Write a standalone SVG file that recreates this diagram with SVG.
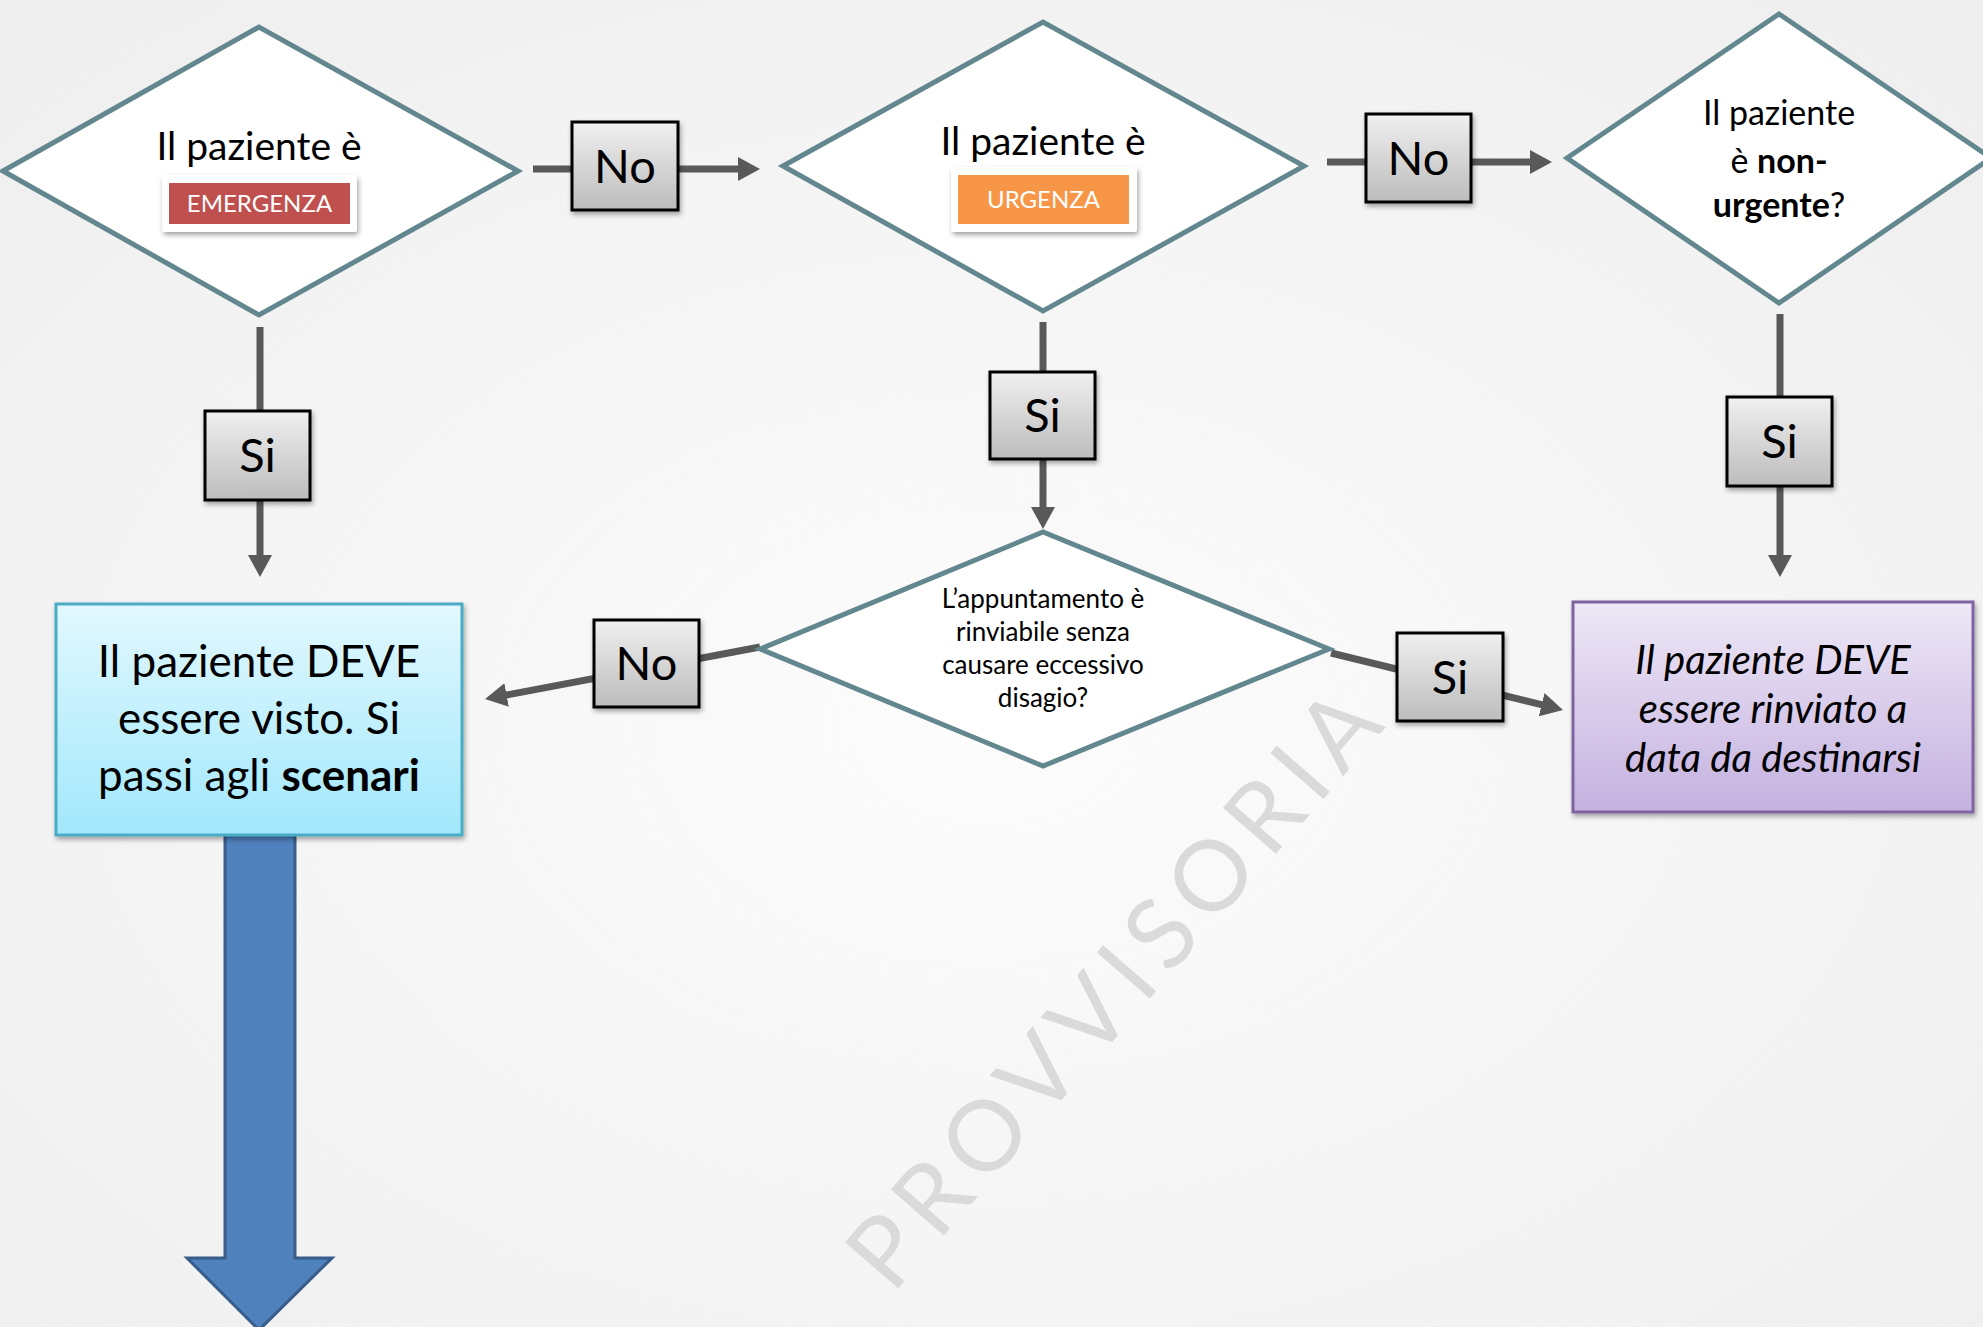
<svg xmlns="http://www.w3.org/2000/svg" width="1983" height="1327" viewBox="0 0 1983 1327">
<defs>
  <radialGradient id="bg" cx="0.5" cy="0.55" r="0.75">
    <stop offset="0" stop-color="#FCFCFC"/>
    <stop offset="1" stop-color="#EEEEEE"/>
  </radialGradient>
  <linearGradient id="gray" x1="0" y1="0" x2="0" y2="1">
    <stop offset="0" stop-color="#F0F0F0"/>
    <stop offset="1" stop-color="#BCBCBC"/>
  </linearGradient>
  <linearGradient id="cyan" x1="0" y1="0" x2="0" y2="1">
    <stop offset="0" stop-color="#E2F8FE"/>
    <stop offset="1" stop-color="#A2E8FC"/>
  </linearGradient>
  <linearGradient id="purple" x1="0" y1="0" x2="0" y2="1">
    <stop offset="0" stop-color="#EEE8F6"/>
    <stop offset="1" stop-color="#C4B1E0"/>
  </linearGradient>
  <filter id="sh" x="-20%" y="-20%" width="140%" height="150%">
    <feDropShadow dx="1.5" dy="3" stdDeviation="2.5" flood-color="#000" flood-opacity="0.35"/>
  </filter>
  <marker id="ah" viewBox="0 0 22 24" refX="4" refY="12" markerWidth="22" markerHeight="24" markerUnits="userSpaceOnUse" orient="auto">
    <path d="M0,0 L22,12 L0,24 z" fill="#595959"/>
  </marker>
  <style>
    .dia { fill: #FFFFFF; stroke: #62878F; stroke-width: 5; stroke-linejoin: miter; }
    .conn { fill: none; stroke: #595959; stroke-width: 7; marker-end: url(#ah); }
    .lbl { fill: url(#gray); stroke: #000000; stroke-width: 3; filter: url(#sh); }
    .lt { font-family: Lato, "Liberation Sans", sans-serif; font-size: 47px; fill: #000; text-anchor: middle; }
    .t { font-family: Lato, "Liberation Sans", sans-serif; fill: #000; text-anchor: middle; }
    .badge { fill: #FFFFFF; filter: url(#sh); }
    .bt { font-family: Lato, "Liberation Sans", sans-serif; font-size: 24px; fill: #FFFFFF; text-anchor: middle; }
    .b { font-weight: bold; }
  </style>
</defs>

<rect x="0" y="0" width="1983" height="1327" fill="url(#bg)"/>

<!-- watermark -->
<text x="1118" y="1018" transform="rotate(-49 1118 985)" font-family="Lato, 'Liberation Sans', sans-serif" font-size="98" letter-spacing="11" fill="#DADADA" text-anchor="middle">PROVVISORIA</text>

<!-- big blue arrow -->
<g id="big-arrow">
  <polygon points="225,835 295,835 295,1258 332,1258 259,1330 187,1258 225,1258" fill="#4F81BD" stroke="#385D8A" stroke-width="3"/>
</g>

<g id="connectors">
  <path class="conn" d="M533,169 L742,169"/>
  <path class="conn" d="M1327,162 L1534,162"/>
  <path class="conn" d="M260,327 L260,559"/>
  <path class="conn" d="M1043,322 L1043,511"/>
  <path class="conn" d="M1780,314 L1780,559"/>
  <path class="conn" d="M760,647 L502.7,695.7"/>
  <path class="conn" d="M1331,653 L1545.5,705.7"/>
</g>

<g id="d-emergenza">
  <polygon class="dia" points="3,171 259,27 518,171 259,315"/>
  <text class="t" x="259" y="160" font-size="39">Il paziente è</text>
  <rect class="badge" x="162" y="175" width="195" height="57" rx="3"/>
  <rect x="169" y="183" width="181" height="41" fill="#C0504D"/>
  <text class="bt" x="259.5" y="212">EMERGENZA</text>
</g>

<g id="d-urgenza">
  <polygon class="dia" points="783,166 1043,22 1304,166 1043,311"/>
  <text class="t" x="1043" y="155" font-size="39">Il paziente è</text>
  <rect class="badge" x="951" y="167" width="186" height="65" rx="3"/>
  <rect x="958" y="175" width="171" height="49" fill="#F79646"/>
  <text class="bt" x="1043.5" y="208">URGENZA</text>
</g>

<g id="d-nonurgente">
  <polygon class="dia" points="1567,158 1779,14 1991,158 1779,303"/>
  <text class="t" x="1779" y="125" font-size="34">Il paziente</text>
  <text class="t" x="1779" y="173" font-size="34">è <tspan class="b">non-</tspan></text>
  <text class="t" x="1779" y="217" font-size="34"><tspan class="b">urgente</tspan>?</text>
</g>

<g id="d-rinvio">
  <polygon class="dia" points="760,649 1043,532 1329,649 1043,766"/>
  <text class="t" x="1043" y="608" font-size="26">L’appuntamento è</text>
  <text class="t" x="1043" y="641" font-size="26">rinviabile senza</text>
  <text class="t" x="1043" y="674" font-size="26">causare eccessivo</text>
  <text class="t" x="1043" y="707" font-size="26">disagio?</text>
</g>

<g id="box-visto">
  <rect x="56" y="604" width="406" height="231" fill="url(#cyan)" stroke="#4BACC6" stroke-width="3" filter="url(#sh)"/>
  <text class="t" x="259" y="677" font-size="44">Il paziente DEVE</text>
  <text class="t" x="259" y="734" font-size="44">essere visto. Si</text>
  <text class="t" x="259" y="791" font-size="44">passi agli <tspan class="b">scenari</tspan></text>
</g>

<g id="box-rinviato">
  <rect x="1573" y="602" width="400" height="210" fill="url(#purple)" stroke="#8064A2" stroke-width="3" filter="url(#sh)"/>
  <text class="t" x="1773" y="674" font-size="40" font-style="italic">Il paziente DEVE</text>
  <text class="t" x="1773" y="723" font-size="40" font-style="italic">essere rinviato a</text>
  <text class="t" x="1773" y="772" font-size="40" font-style="italic">data da destinarsi</text>
</g>

<g id="lbl-no-1">
  <rect class="lbl" x="572" y="122" width="106" height="88"/>
  <text class="lt" x="625" y="183">No</text>
</g>
<g id="lbl-no-2">
  <rect class="lbl" x="1366" y="114" width="105" height="88"/>
  <text class="lt" x="1418.5" y="175">No</text>
</g>
<g id="lbl-si-1">
  <rect class="lbl" x="205" y="411" width="105" height="89"/>
  <text class="lt" x="257.5" y="472">Si</text>
</g>
<g id="lbl-si-2">
  <rect class="lbl" x="990" y="372" width="105" height="87"/>
  <text class="lt" x="1042.5" y="432">Si</text>
</g>
<g id="lbl-si-3">
  <rect class="lbl" x="1727" y="397" width="105" height="89"/>
  <text class="lt" x="1779.5" y="458">Si</text>
</g>
<g id="lbl-no-3">
  <rect class="lbl" x="594" y="620" width="105" height="87"/>
  <text class="lt" x="646.5" y="680">No</text>
</g>
<g id="lbl-si-4">
  <rect class="lbl" x="1397" y="633" width="106" height="88"/>
  <text class="lt" x="1450" y="694">Si</text>
</g>
</svg>
